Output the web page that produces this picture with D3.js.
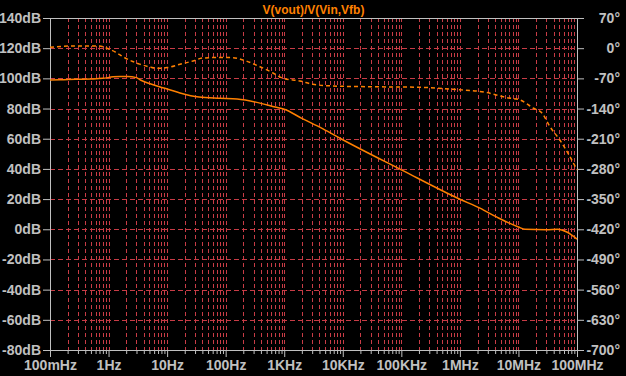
<!DOCTYPE html>
<html>
<head>
<meta charset="utf-8">
<script src="https://cdn.jsdelivr.net/npm/d3@7"></script>
<style>
  body { margin: 0; background: #000; }
  svg { display: block; }
</style>
</head>
<body>
<script>
// Width and height
const w = 626;
const h = 376;
const margin = { top: 18, right: 49, bottom: 26, left: 50 };

// title of the trace
const title = "V(vout)/V(Vin,Vfb)";

// magnitude trace (dB)
const magFreq = [0.1, 0.15, 0.27, 0.5, 0.8, 1.2, 1.6, 2.1, 3.0, 3.5, 5, 7.6, 10, 16.6, 35, 80, 157, 385, 700,
  1000, 2000, 4600, 10000, 100000, 1000000, 2200000, 4300000, 10000000, 13000000, 30000000, 47000000,
  67000000, 100000000];
const magDb = [98.9, 99, 99.4, 99.6, 100, 101, 101.3, 101.3, 100.5, 98.9, 96.6, 94.3, 93, 90.3, 87.6, 86.8,
  86.3, 83.6, 81, 79.5, 73.5, 66.5, 59.3, 39.4, 19.9, 14, 8, 1.5, 0, -0.3, 0, -1.8, -6.5];

// phase trace (degrees)
const phFreq = [0.1, 0.24, 0.7, 0.94, 1.39, 1.77, 2.6, 3.4, 5.1, 6.7, 10, 16.6, 27.7, 41, 80, 133, 198, 385,
  643, 952, 1860, 3100, 6800, 25900, 208000, 762000, 2900000, 6400000, 10600000, 17700000, 25000000,
  34500000, 51000000, 76000000, 100000000];
const phDeg = [2, 5, 5, -0.3, -11, -20, -31, -37, -43.6, -46.6, -45, -37.4, -29.7, -22.8, -21.5, -22, -27.4,
  -43, -57.5, -69.8, -76, -83.8, -87.7, -89.3, -90.7, -95.3, -103, -114.8, -120, -138.7, -150, -182, -213,
  -251.7, -282.5];

// axis ticks
const dbTicks = [140, 120, 100, 80, 60, 40, 20, 0, -20, -40, -60, -80];
const degTicks = [70, 0, -70, -140, -210, -280, -350, -420, -490, -560, -630, -700];
const decades = [0.1, 1, 10, 100, 1e3, 1e4, 1e5, 1e6, 1e7, 1e8];
const decadeLabels = ["100mHz", "1Hz", "10Hz", "100Hz", "1KHz", "10KHz", "100KHz", "1MHz", "10MHz", "100MHz"];

const axisColor = "#c0c0c0";
const gridColor = "#c83c46";
const traceColor = "#ff8000";
const font = "'Liberation Sans', Arial, sans-serif";

const svg = d3.select("body").append("svg").attr("width", w).attr("height", h)
  .style("background", "#000");

const x = d3.scaleLog().domain([0.1, 1e8]).range([margin.left, w - margin.right]);
const yDb = d3.scaleLinear().domain([-80, 140]).range([h - margin.bottom, margin.top]);
const yDeg = d3.scaleLinear().domain([-700, 70]).range([h - margin.bottom, margin.top]);

// every 1..9 tick of each decade
const freqTicks = [];
decades.slice(0, -1).forEach((d) => {
  for (let k = 1; k < 10; k++) freqTicks.push(d * k);
});
freqTicks.push(1e8);
const isDecade = (f) => decades.some((d) => Math.abs(f / d - 1) < 1e-9);

// grid
const grid = svg.append("g").attr("stroke", gridColor).attr("stroke-width", 1);
grid.selectAll("line.v")
  .data(freqTicks.filter((f) => f > 0.1 && f < 1e8))
  .enter().append("line")
  .attr("x1", (d) => Math.round(x(d)) + 0.5).attr("x2", (d) => Math.round(x(d)) + 0.5)
  .attr("y1", margin.top).attr("y2", h - margin.bottom)
  .attr("stroke-dasharray", "4,3");
grid.selectAll("line.h")
  .data(dbTicks.filter((d) => d < 140 && d > -80))
  .enter().append("line")
  .attr("x1", margin.left).attr("x2", w - margin.right)
  .attr("y1", (d) => Math.round(yDb(d)) + 0.5).attr("y2", (d) => Math.round(yDb(d)) + 0.5)
  .attr("stroke-dasharray", "5,3");

// axes
const xAxis = d3.axisBottom(x).tickValues(freqTicks)
  .tickSize(4)
  .tickFormat((d) => (isDecade(d) ? decadeLabels[decades.findIndex((v) => Math.abs(d / v - 1) < 1e-9)] : ""));
const gx = svg.append("g").attr("transform", `translate(0,${h - margin.bottom})`).call(xAxis);
gx.selectAll(".tick line").filter((d) => isDecade(d)).attr("y2", 7);
gx.selectAll(".tick text").attr("y", 10);

const gl = svg.append("g").attr("transform", `translate(${margin.left},0)`)
  .call(d3.axisLeft(yDb).tickValues(dbTicks).tickSize(7).tickFormat((d) => d + "dB"));
gl.selectAll(".tick text").attr("x", -9);

const gr = svg.append("g").attr("transform", `translate(${w - margin.right},0)`)
  .call(d3.axisRight(yDeg).tickValues(degTicks).tickSize(7).tickFormat((d) => d + "°"));
gr.selectAll(".tick text").attr("x", 43).attr("text-anchor", "end");

svg.selectAll(".domain").remove();
[gx, gl, gr].forEach((g) => {
  g.selectAll("line").attr("stroke", axisColor);
  g.selectAll("text").attr("fill", axisColor).style("font", `bold 14px ${font}`);
});

// frame
svg.append("rect")
  .attr("x", margin.left + 0.5).attr("y", margin.top + 0.5)
  .attr("width", w - margin.left - margin.right).attr("height", h - margin.top - margin.bottom)
  .attr("fill", "none").attr("stroke", axisColor);

// traces
const magLine = d3.line().x((d, i) => x(magFreq[i])).y((d) => yDb(d)).curve(d3.curveMonotoneX);
const phLine = d3.line().x((d, i) => x(phFreq[i])).y((d) => yDeg(d)).curve(d3.curveMonotoneX);

svg.append("path").datum(magDb).attr("d", magLine)
  .attr("fill", "none").attr("stroke", traceColor).attr("stroke-width", 1.5);
svg.append("path").datum(phDeg).attr("d", phLine)
  .attr("fill", "none").attr("stroke", traceColor).attr("stroke-width", 1.5)
  .attr("stroke-dasharray", "4,3");

// title
svg.append("text")
  .attr("x", (margin.left + w - margin.right) / 2).attr("y", 14)
  .attr("text-anchor", "middle").attr("fill", traceColor)
  .style("font", `bold 12px ${font}`)
  .text(title);
</script>
</body>
</html>
